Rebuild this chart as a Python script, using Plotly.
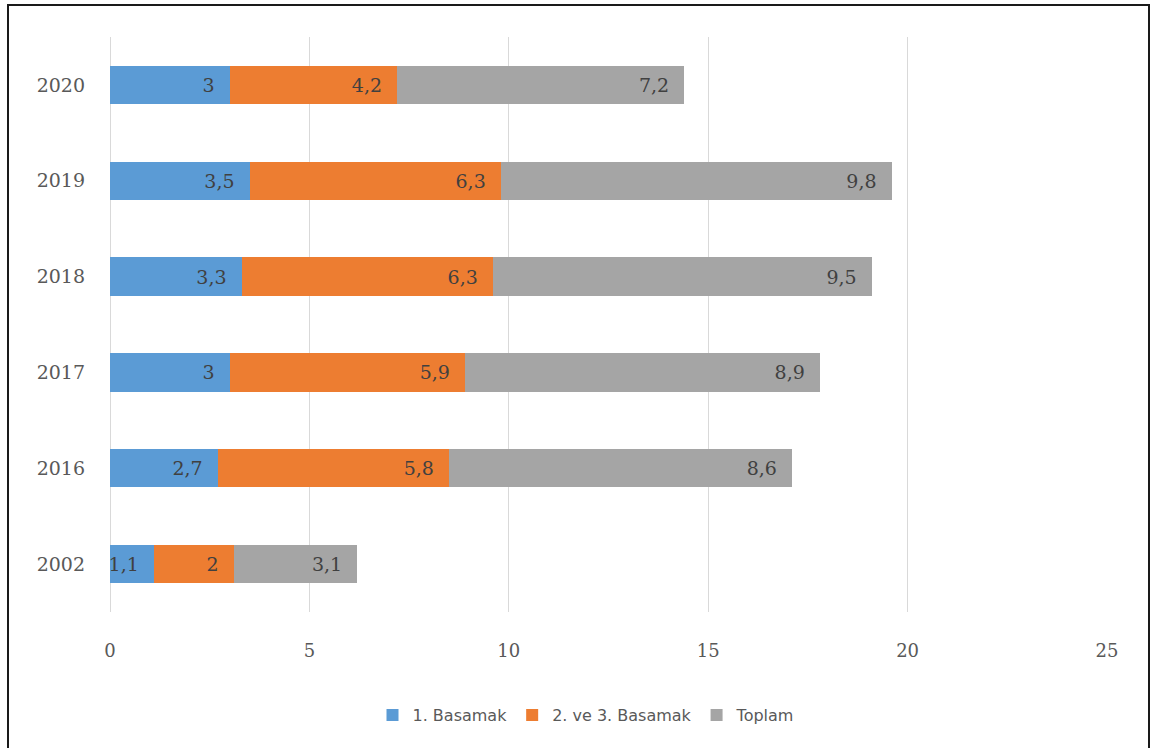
import plotly.graph_objects as go

years = ["2002", "2016", "2017", "2018", "2019", "2020"]
basamak1 = [1.1, 2.7, 3.0, 3.3, 3.5, 3.0]
basamak23 = [2.0, 5.8, 5.9, 6.3, 6.3, 4.2]
toplam = [3.1, 8.6, 8.9, 9.5, 9.8, 7.2]
series_names = ["1. Basamak", "2. ve 3. Basamak", "Toplam"]
colors = ["#5B9BD5", "#ED7D31", "#A5A5A5"]
x_ticks = [0, 5, 10, 15, 20, 25]


def fmt(v):
    s = ("%g" % v)
    return s.replace(".", ",") + "\u00a0\u00a0"


fig = go.Figure()
for name, vals, col in zip(series_names, [basamak1, basamak23, toplam], colors):
    fig.add_trace(go.Bar(
        y=years, x=vals, name=name, orientation="h",
        marker=dict(color=col, line=dict(width=0)),
        text=[fmt(v) for v in vals],
        textposition="inside", insidetextanchor="end",
        textfont=dict(family="DejaVu Serif", size=19, color="#404040"),
        constraintext="none",
    ))

L, R, T, B = 110, 46, 37, 136
W, H = 1153, 748
pw, ph = W - L - R, H - T - B

fig.update_layout(
    width=W, height=H, barmode="stack", bargap=0.6,
    margin=dict(l=L, r=R, t=T, b=B),
    paper_bgcolor="white", plot_bgcolor="white",
    legend=dict(orientation="h", x=(586 - L) / pw, xanchor="center",
                y=(T + ph - 715) / ph, yanchor="middle",
                font=dict(family="DejaVu Sans", size=16, color="#595959"),
                itemwidth=30, traceorder="normal"),
    xaxis=dict(range=[0, 25], tickvals=x_ticks, showgrid=True,
               gridcolor="#D9D9D9", gridwidth=1, zeroline=True,
               zerolinecolor="#D9D9D9", zerolinewidth=1, showline=False,
               ticks="", ticklabelstandoff=26,
               tickfont=dict(family="DejaVu Serif", size=18, color="#595959")),
    yaxis=dict(showgrid=False, zeroline=False, showline=False, ticks="",
               ticklabelstandoff=24, type="category",
               tickfont=dict(family="DejaVu Serif", size=19, color="#595959")),
    shapes=[dict(type="rect", xref="paper", yref="paper",
                 x0=(8 - L) / pw, x1=(1149 - L) / pw,
                 y0=(T + ph - 760) / ph, y1=(T + ph - 5) / ph,
                 line=dict(color="#1a1a1a", width=2), fillcolor="rgba(0,0,0,0)",
                 layer="above")],
)

fig.write_html("out.html", config={"displayModeBar": False},
               post_script="document.body.style.margin='0px';document.body.style.overflow='hidden';")
